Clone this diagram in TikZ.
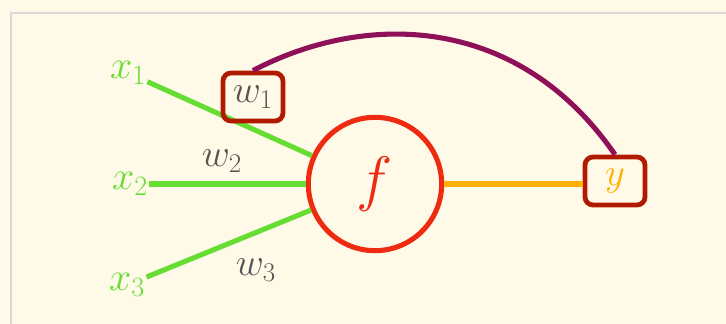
\RequirePackage{fix-cm}
\documentclass[tikz,border=0pt]{standalone}
\usepackage{amsmath,amssymb}
\usetikzlibrary{positioning}

\definecolor{bgcream}{HTML}{FFF9E8}
\definecolor{framegray}{HTML}{D9D9D9}
\definecolor{inputgreen}{HTML}{66DD33}
\definecolor{neuronred}{HTML}{EE2A10}
\definecolor{boxred}{HTML}{B01A00}
\definecolor{outorange}{HTML}{FFB000}
\definecolor{arcpurple}{HTML}{8E1058}
\definecolor{weightgray}{HTML}{555555}

\tikzset{
    input/.style={text=inputgreen, inner sep=1pt, font=\fontsize{30}{32}\selectfont},
    weight/.style={text=weightgray, inner sep=1pt, font=\fontsize{29}{32}\selectfont},
    markbox/.style={draw=boxred, line width=3.6pt, rounded corners=6pt,
        minimum width=45pt, minimum height=36pt, inner sep=0pt},
    link/.style={line width=3.8pt}
}

\begin{document}
\begin{tikzpicture}[x=0.75pt, y=-0.75pt]
        % background and frame
        \fill[bgcream] (0,0) rectangle (726,324);
        \useasboundingbox (0,0) rectangle (726,324);
        \draw[framegray, line width=1.5pt] (11,330) |- (730,13);

        \node (x1) [input] at (128,73) {$x_1$};
        \node (x2) [input] at (130,184) {$x_2$};
        \node (x3) [input] at (127,285) {$x_3$};
        \node (f) [draw=neuronred, circle, line width=3.8pt, minimum size=100pt,
            text=neuronred, font=\fontsize{46}{50}\selectfont] at (375,184) {$f$};

        \draw[link, inputgreen] (x1) -- (f);
        \draw[link, inputgreen] (x2) -- (f);
        \draw[link, inputgreen] (x3) -- (f);

        \node (w1) [markbox, weight] at (253,97) {$w_1$};
        \node (w2) [weight] at (222,161) {$w_2$};
        \node (w3) [weight] at (256,270) {$w_3$};
        \node (y) [markbox, text=outorange, font=\fontsize{29}{32}\selectfont] at (615,181) {$y$};

        \draw[link, outorange] (f.east) -- (f.east -| y.west);
        \draw[link, arcpurple] (w1.north) .. controls (360,14) and (515,10) .. (y.north);
    \end{tikzpicture}
\end{document}
